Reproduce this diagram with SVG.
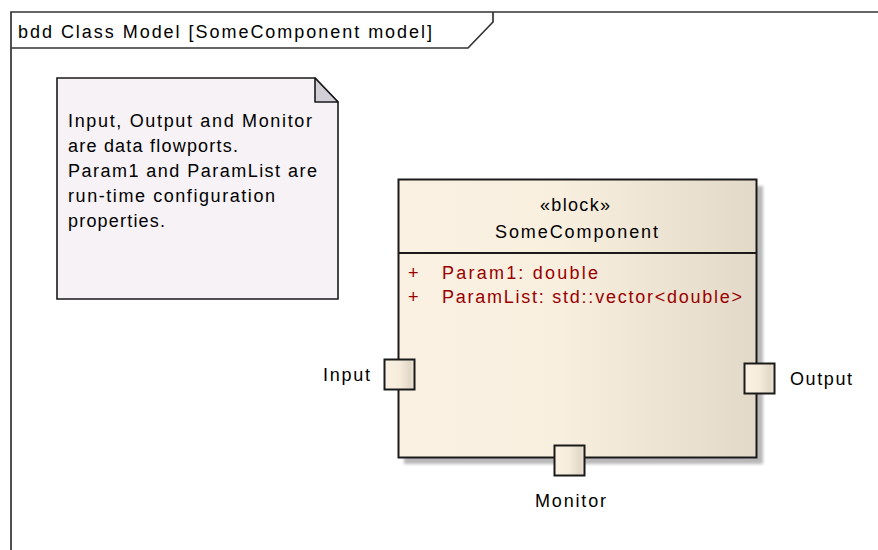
<svg xmlns="http://www.w3.org/2000/svg" width="878" height="550" viewBox="0 0 878 550">
<defs>
<style>
.t{font-family:"Liberation Sans",Arial,sans-serif;font-size:18px;fill:#000}
.attr{fill:#990000}
.frame{fill:none;stroke:#333;stroke-width:1.7}
.blk{stroke:#1a1a1a;stroke-width:2}
.port{fill:url(#pg);stroke:#1a1a1a;stroke-width:2}
</style>
<linearGradient id="bg" x1="0" y1="0" x2="1" y2="0">
<stop offset="0" stop-color="#fbf1e2"/>
<stop offset="0.45" stop-color="#f9efdf"/>
<stop offset="1" stop-color="#e3d9c9"/>
</linearGradient>
<linearGradient id="pg" x1="0" y1="0" x2="1" y2="0">
<stop offset="0" stop-color="#fbf1e2"/>
<stop offset="0.5" stop-color="#f6ecdc"/>
<stop offset="0.85" stop-color="#e2d8c8"/>
<stop offset="1" stop-color="#f2e8d8"/>
</linearGradient>
<filter id="sh" x="-10%" y="-10%" width="130%" height="130%">
<feGaussianBlur stdDeviation="1.5"/>
</filter>
</defs>
<rect width="878" height="550" fill="#fff"/>
<g id="frame">
<path class="frame" d="M11,550 V12 H878"/>
<path class="frame" d="M11,48 H468 L493,22 V12"/>
<text class="t" x="18" y="38" textLength="414">bdd Class Model [SomeComponent model]</text>
</g>
<g id="note">
<path d="M57,78 H315 L338,102 V299 H57 Z" fill="#f6f2f6" stroke="#1a1a1a" stroke-width="1.6"/>
<path d="M315,78 V102 H338 Z" fill="#d2ced6" stroke="#1a1a1a" stroke-width="1.6" stroke-linejoin="round"/>
<text class="t" x="68" y="127" textLength="244">Input, Output and Monitor</text>
<text class="t" x="68" y="152" textLength="170">are data flowports.</text>
<text class="t" x="68" y="177" textLength="249">Param1 and ParamList are</text>
<text class="t" x="68" y="202" textLength="207">run-time configuration</text>
<text class="t" x="68" y="227" textLength="97">properties.</text>
</g>
<g id="SomeComponent">
<rect x="404" y="186" width="359" height="278" fill="#b8b8b8" filter="url(#sh)"/>
<rect class="blk" x="398.5" y="179.5" width="358" height="278" fill="url(#bg)"/>
<line class="blk" x1="398.5" y1="253" x2="756.5" y2="253"/>
<text class="t" x="575" y="211" text-anchor="middle" textLength="70">«block»</text>
<text class="t" x="576.5" y="238" text-anchor="middle" textLength="163">SomeComponent</text>
<text class="t attr" x="408" y="279">+</text>
<text class="t attr" x="442" y="279" textLength="156">Param1:  double</text>
<text class="t attr" x="408" y="303">+</text>
<text class="t attr" x="442" y="303" textLength="300">ParamList:  std::vector&lt;double&gt;</text>
</g>
<g id="Input">
<rect class="port" x="384.5" y="359.5" width="30" height="30"/>
<text class="t" x="323" y="381" textLength="47">Input</text>
</g>
<g id="Output">
<rect class="port" x="744.5" y="363.5" width="30" height="30"/>
<text class="t" x="790" y="385" textLength="62">Output</text>
</g>
<g id="Monitor">
<rect class="port" x="554.5" y="445.5" width="30" height="30"/>
<text class="t" x="535" y="507" textLength="71">Monitor</text>
</g>
<g id="connectors"/>
</svg>
